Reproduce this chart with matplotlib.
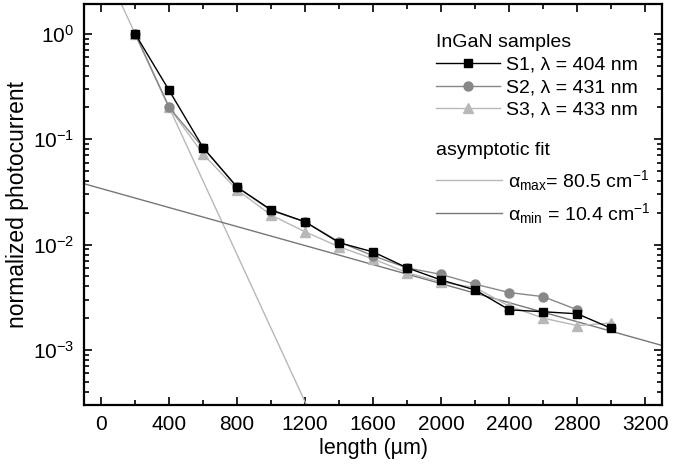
import numpy as np
import matplotlib
matplotlib.use("Agg")
import matplotlib.pyplot as plt
from matplotlib.ticker import MultipleLocator, LogLocator

plt.rcParams['font.family'] = ['Liberation Sans', 'DejaVu Sans']
plt.rcParams['mathtext.fontset'] = 'custom'
plt.rcParams['mathtext.rm'] = 'Liberation Sans'
plt.rcParams['mathtext.it'] = 'Liberation Sans:italic'
plt.rcParams['mathtext.default'] = 'rm'

# sample lengths (um)
length = [200, 400, 600, 800, 1000, 1200, 1400, 1600, 1800, 2000, 2200, 2400, 2600, 2800, 3000]
# normalized photocurrent
s1 = [1.0, 0.29, 0.083, 0.035, 0.0213, 0.0164, 0.0104, 0.0085, 0.0060, 0.0046, 0.0037, 0.0024, 0.0023, 0.0022, 0.0016]
s2 = [1.0, 0.20, 0.083, 0.035, 0.021, 0.0164, 0.0106, 0.0078, 0.0060, 0.0052, 0.0042, 0.0035, 0.0032, 0.0024]
s3 = [1.0, 0.20, 0.072, 0.033, 0.019, 0.0132, 0.0095, 0.0073, 0.0054, 0.0044, 0.0039, 0.0026, 0.0020, 0.0017, 0.0018]

# asymptotic fits: y = amp * exp(-alpha * x), alpha in cm^-1
alpha_max, amp_max = 80.5, 5.0
alpha_min, amp_min = 10.4, 0.034

fig = plt.figure(figsize=(6.95, 4.66), dpi=100)
ax = fig.add_axes([0.121, 0.131, 0.832, 0.861])

xf = np.linspace(-100, 3300, 400)
fit_max, = ax.plot(xf, amp_max * np.exp(-alpha_max * 1e-4 * xf), color='#b8b8b8', lw=1.0)
fit_min, = ax.plot(xf, amp_min * np.exp(-alpha_min * 1e-4 * xf), color='#777777', lw=1.0)

h3, = ax.plot(length, s3, '-^', color='#b8b8b8', mfc='#b8b8b8', mec='#b8b8b8', ms=6.5, lw=1.0)
h2, = ax.plot(length[:len(s2)], s2, '-o', color='#888888', mfc='#888888', mec='#888888', ms=6.5, lw=1.0)
h1, = ax.plot(length, s1, '-s', color='black', ms=6, lw=1.0)

ax.set_yscale('log')
ax.set_xlim(-100, 3300)
ax.set_ylim(3.0e-4, 1.93)
ax.xaxis.set_major_locator(MultipleLocator(400))
ax.xaxis.set_minor_locator(MultipleLocator(200))
ax.yaxis.set_major_locator(LogLocator(base=10, numticks=10))
ax.yaxis.set_minor_locator(LogLocator(base=10, subs=np.arange(2, 10), numticks=10))
ax.tick_params(which='both', direction='in', top=True, right=True, width=1.2, labelsize=15)
ax.tick_params(which='major', length=6, pad=7)
ax.tick_params(which='minor', length=3.5)
for sp in ax.spines.values():
    sp.set_linewidth(1.6)

ax.set_xlabel('length (µm)', fontsize=15.5, labelpad=3)
ax.set_ylabel('normalized photocurrent', fontsize=16.5, labelpad=3)

leg1 = ax.legend([h1, h2, h3], ['S1, λ = 404 nm', 'S2, λ = 431 nm', 'S3, λ = 433 nm'],
                 title='InGaN samples', loc='upper left', bbox_to_anchor=(0.595, 0.943),
                 frameon=False, fontsize=14, title_fontsize=14, handlelength=3.3,
                 handletextpad=0.3, labelspacing=0.25, alignment='left', borderaxespad=0)
ax.add_artist(leg1)
ax.legend([fit_max, fit_min],
          [r'$\alpha_{max}$= 80.5 cm$^{-1}$', r'$\alpha_{min}$ = 10.4 cm$^{-1}$'],
          title='asymptotic fit', loc='upper left', bbox_to_anchor=(0.595, 0.675),
          frameon=False, fontsize=14, title_fontsize=14, handlelength=3.4,
          handletextpad=0.3, labelspacing=0.45, alignment='left', borderaxespad=0)

fig.savefig('out.png', dpi=100)
